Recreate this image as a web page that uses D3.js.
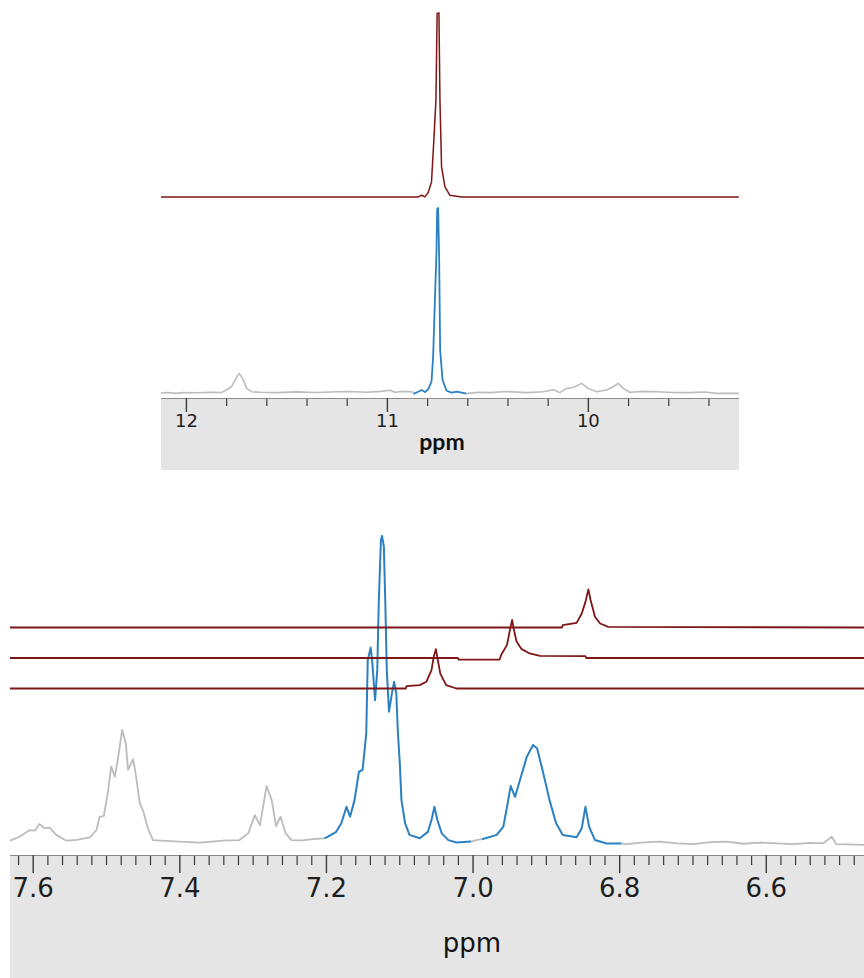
<!DOCTYPE html>
<html><head><meta charset="utf-8">
<script src="https://cdn.jsdelivr.net/npm/d3@7"></script>
<style>body{margin:0;background:#fff}</style>
</head><body>
<svg id="chart" width="864" height="978"></svg>
<script>
// ---------- Upper panel: 12.1 – 9.25 ppm ----------
const upperDomain = [12.124, 9.248];
const upperMajorTicks = [12, 11, 10];
const upperTickLabels = ["12", "11", "10"];
const upperMinorTicks = [11.8, 11.6, 11.4, 11.2, 10.8, 10.6, 10.4, 10.2, 9.8, 9.6, 9.4];

// reference 1D spectrum, outside the selected window (grey)
const upperGreyLeft = [
  [12.124, 0], [12.09, 0.3], [12.05, -0.2], [12.013, 0.2], [11.95, 0.1], [11.88, 0.4],
  [11.822, 0.3], [11.806, 1.2], [11.773, 3.4], [11.751, 7.9], [11.735, 10.6],
  [11.718, 7.9], [11.698, 2.5], [11.673, 0.7], [11.632, 0.4], [11.55, 0.2],
  [11.45, 0.6], [11.35, 0.3], [11.25, 0.7], [11.184, 0.8], [11.10, 0.4],
  [11.03, 0.9], [10.985, 1.5], [10.96, 0.4], [10.919, 0.9], [10.869, 0.5]
];
// selected window around the NH signal (blue)
const upperBlue = [
  [10.869, -0.5], [10.844, 0.7], [10.827, 1.6], [10.811, 0.5], [10.795, 2.0],
  [10.778, 6.1], [10.770, 19.6], [10.761, 50.3], [10.753, 77.3], [10.750, 99.3],
  [10.745, 100], [10.740, 73.7], [10.735, 23.2], [10.723, 7.0], [10.703, 1.2],
  [10.678, 0.2], [10.653, 0.7], [10.628, 0.2], [10.604, -0.3]
];
const upperGreyRight = [
  [10.604, -0.3], [10.596, -0.2], [10.54, 0.4], [10.488, 0.2], [10.404, 0.8],
  [10.305, 0.2], [10.222, 0.7], [10.173, 1.8], [10.139, 0.2], [10.106, 2.5],
  [10.073, 3.0], [10.031, 5.2], [9.998, 2.5], [9.957, 0.7], [9.907, 1.6],
  [9.874, 3.4], [9.849, 5.2], [9.824, 2.5], [9.791, 0.4], [9.72, 0.9],
  [9.658, 0.7], [9.58, 0.3], [9.493, 0.2], [9.42, 0.5], [9.360, -0.2], [9.249, -0.2]
];
// selective-excitation trace (dark red), stacked above
const upperRedOffset = 106;
const upperRed = [
  [12.124, 0], [10.844, 0], [10.827, 0.9], [10.811, 0], [10.795, 2.2], [10.778, 8.1],
  [10.766, 31.5], [10.756, 52.3], [10.750, 99.1], [10.741, 99.5], [10.736, 52.3],
  [10.728, 16.2], [10.711, 5.4], [10.687, 0.9], [10.628, 0], [9.249, 0]
];

// ---------- Lower panel: 7.63 – 6.47 ppm ----------
const lowerDomain = [7.631, 6.466];
const lowerMajorTicks = [7.6, 7.4, 7.2, 7.0, 6.8, 6.6];
const lowerTickLabels = ["7.6", "7.4", "7.2", "7.0", "6.8", "6.6"];

const lowerGreyLeft = [
  [7.631, 0.2], [7.629, 0.3], [7.618, 1.4], [7.604, 3.6], [7.597, 3.4], [7.591, 5.6],
  [7.584, 4.2], [7.577, 4.4], [7.568, 2.0], [7.554, 0.1], [7.54, 0.4], [7.522, 1.2],
  [7.513, 3.6], [7.509, 7.8], [7.503, 8.2], [7.497, 16.7], [7.493, 24.4],
  [7.488, 21.1], [7.484, 26.6], [7.478, 36.4], [7.473, 32.0], [7.470, 23.3],
  [7.467, 24.9], [7.463, 26.8], [7.459, 21.1], [7.454, 12.4], [7.449, 9.6],
  [7.443, 4.2], [7.436, 0.3], [7.40, -0.2], [7.372, -0.5], [7.34, 0.1],
  [7.318, 0.3], [7.306, 2.5], [7.297, 8.5], [7.290, 5.2], [7.281, 18.0],
  [7.274, 13.4], [7.268, 4.9], [7.262, 8.0], [7.255, 2.5], [7.247, 0.3],
  [7.232, 0.2], [7.218, 0.6], [7.202, 0.9]
];
const lowerBlueA = [
  [7.202, 0.9], [7.199, 1.2], [7.186, 3.0], [7.179, 5.8], [7.172, 11.2], [7.167, 8.0],
  [7.161, 13.4], [7.155, 22.7], [7.150, 23.3], [7.145, 35.3], [7.143, 59.3],
  [7.139, 63.4], [7.137, 59.3], [7.133, 46.2], [7.130, 56.1], [7.128, 77.9],
  [7.125, 98.7], [7.1235, 100], [7.121, 96.5], [7.119, 77.9], [7.117, 56.1],
  [7.114, 42.4], [7.110, 48.4], [7.107, 52.2], [7.104, 48.4], [7.102, 36.4],
  [7.099, 24.4], [7.097, 13.4], [7.092, 5.8], [7.086, 2.0], [7.072, 0.9],
  [7.061, 3.0], [7.056, 6.9], [7.052, 11.2], [7.048, 6.9], [7.042, 2.5],
  [7.033, 0.3], [7.022, -0.5], [7.002, -0.2]
];
const lowerGreyMid = [[7.002, -0.2], [6.995, 0.3], [6.987, 0.6]];
const lowerBlueB = [
  [6.987, 0.6], [6.967, 2.0], [6.958, 4.7], [6.953, 11.2], [6.948, 18.0], [6.942, 14.5],
  [6.936, 19.4], [6.926, 27.6], [6.9175, 31.5], [6.912, 30.4], [6.904, 22.7],
  [6.895, 13.4], [6.886, 5.8], [6.877, 2.0], [6.858, 1.2], [6.851, 4.2],
  [6.846, 11.2], [6.841, 4.7], [6.833, 0.3], [6.817, -0.8], [6.797, -0.8]
];
const lowerGreyRight = [
  [6.797, -0.8], [6.790, -1.0], [6.77, -0.5], [6.745, -0.2], [6.72, -0.8],
  [6.699, -1.0], [6.675, -0.4], [6.654, -0.2], [6.63, -0.9], [6.608, -0.5],
  [6.585, -0.8], [6.563, -1.0], [6.54, -0.6], [6.522, -0.8], [6.510, 1.4],
  [6.504, -1.0], [6.49, -1.1], [6.466, -1.3]
];

// three selective 1D traces, stacked at fixed offsets
const lowerRedOffsets = [50, 60, 70];
const lowerRed705 = [
  [7.631, 0], [7.091, 0], [7.090, 0.8], [7.072, 1.1], [7.063, 2.2], [7.056, 6.0],
  [7.053, 10.4], [7.050, 12.9], [7.048, 10.2], [7.044, 4.9], [7.036, 1.1],
  [7.022, 0], [6.466, 0]
];
const lowerRed695 = [
  [7.631, 0], [7.020, 0], [7.019, -0.5], [6.963, -0.5], [6.961, 1.0], [6.953, 4.3],
  [6.949, 9.2], [6.946, 12.5], [6.944, 9.7], [6.940, 5.4], [6.933, 2.9],
  [6.922, 1.5], [6.908, 0.7], [6.846, 0.6], [6.845, 0], [6.466, 0]
];
const lowerRed685 = [
  [7.631, 0], [6.878, 0], [6.877, 0.8], [6.858, 1.5], [6.851, 4.6], [6.846, 8.4],
  [6.842, 12.5], [6.839, 9.0], [6.833, 3.5], [6.826, 1.3], [6.815, 0.2], [6.466, 0]
];
const lowerRedTraces = [lowerRed705, lowerRed695, lowerRed685];

// ---------- drawing ----------
const C = { red: "#7d1616", blue: "#2a80c2", grey: "#bcbcbc", box: "#e5e5e5", axis: "#3a3a3a" };
const svg = d3.select("#chart");

function drawPanel(opt) {
  const x = d3.scaleLinear().domain(opt.domain).range([opt.left, opt.right]);
  const y = d3.scaleLinear().domain([0, 100]).range([opt.base, opt.top]);
  const g = svg.append("g");

  g.append("rect").attr("x", opt.left).attr("y", opt.axisY)
    .attr("width", opt.right - opt.left).attr("height", opt.boxH).attr("fill", C.box);

  const line = off => d3.line().x(d => x(d[0])).y(d => y(d[1] + off));
  opt.series.forEach(s => {
    g.append("path").datum(s.data).attr("fill", "none")
      .attr("stroke", s.color).attr("stroke-width", s.width)
      .attr("stroke-linejoin", "round").attr("d", line(s.offset || 0));
  });

  // minor ticks
  const minor = g.append("g").attr("transform", `translate(0,${opt.axisY})`)
    .call(d3.axisBottom(x).tickValues(opt.minor).tickSize(opt.minorLen).tickFormat(""));
  minor.select(".domain").remove();
  minor.selectAll("line").attr("stroke", C.axis).attr("stroke-width", 1.2);
  // major ticks with labels
  const major = g.append("g").attr("transform", `translate(0,${opt.axisY})`)
    .call(d3.axisBottom(x).tickValues(opt.major).tickSize(opt.majorLen)
      .tickFormat((d, i) => opt.labels[i]).tickPadding(opt.pad));
  major.select(".domain").attr("stroke", "#8a8a8a").attr("stroke-width", 1)
    .attr("d", `M${opt.left},0.5H${opt.right}`);
  major.selectAll("line").attr("stroke", C.axis).attr("stroke-width", 1.4);
  major.selectAll("text").attr("font-family", "DejaVu Sans").attr("font-size", opt.fontSize)
    .attr("fill", "#1e1e1e");

  g.append("text").attr("x", opt.unitX).attr("y", opt.unitY).attr("text-anchor", "middle")
    .attr("font-family", opt.unitFont).attr("font-weight", opt.unitWeight)
    .attr("font-size", opt.unitSize).attr("fill", "#111").text("ppm");
}

drawPanel({
  domain: upperDomain, left: 161, right: 739, base: 393, top: 208,
  axisY: 398, boxH: 72, major: upperMajorTicks, labels: upperTickLabels,
  minor: upperMinorTicks, majorLen: 14, minorLen: 8, pad: 2, fontSize: 18,
  unitX: 442, unitY: 450, unitFont: "Lato", unitWeight: 700, unitSize: 23,
  series: [
    { data: upperGreyLeft, color: C.grey, width: 1.6 },
    { data: upperGreyRight, color: C.grey, width: 1.6 },
    { data: upperBlue, color: C.blue, width: 1.8 },
    { data: upperRed, color: C.red, width: 1.5, offset: upperRedOffset }
  ]
});

drawPanel({
  domain: lowerDomain, left: 10, right: 864, base: 841, top: 536,
  axisY: 855, boxH: 123, major: lowerMajorTicks, labels: lowerTickLabels,
  minor: d3.range(7.62, 6.47, -0.02).map(v => +v.toFixed(2)).filter(v => !lowerMajorTicks.includes(v)),
  majorLen: 18, minorLen: 10, pad: 6, fontSize: 26,
  unitX: 472, unitY: 952, unitFont: "DejaVu Sans", unitWeight: 400, unitSize: 26,
  series: [
    { data: lowerGreyLeft, color: C.grey, width: 1.8 },
    { data: lowerGreyMid, color: C.grey, width: 1.8 },
    { data: lowerGreyRight, color: C.grey, width: 1.8 },
    { data: lowerBlueA, color: C.blue, width: 2 },
    { data: lowerBlueB, color: C.blue, width: 2 },
    ...lowerRedTraces.map((t, i) => ({ data: t, color: C.red, width: 1.8, offset: lowerRedOffsets[i] }))
  ]
});
</script>
</body></html>
